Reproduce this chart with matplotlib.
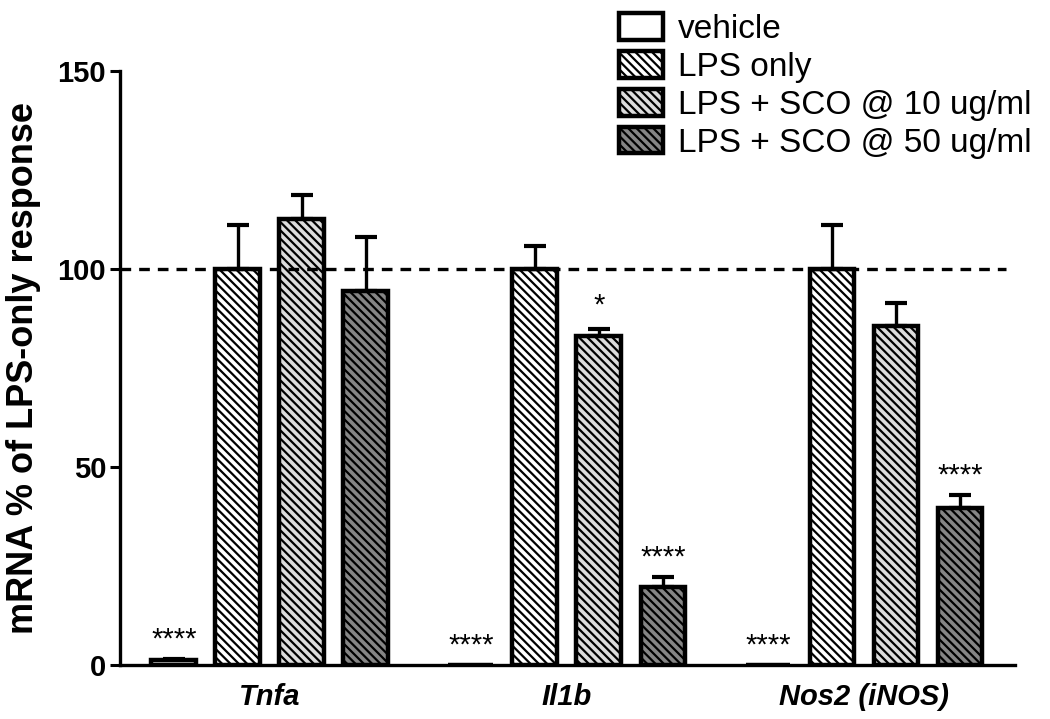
import matplotlib
matplotlib.use("Agg")
import matplotlib.pyplot as plt
import numpy as np

plt.rcParams["font.family"] = ["Liberation Sans", "DejaVu Sans"]
plt.rcParams["hatch.linewidth"] = 1.6

genes = ["Tnfa", "Il1b", "Nos2 (iNOS)"]
series = ["vehicle", "LPS only", "LPS + SCO @ 10 ug/ml", "LPS + SCO @ 50 ug/ml"]

# mean per series, one value per gene
vehicle = [1.2, 0.0, 0.0]
lps_only = [100.0, 100.0, 100.0]
sco_10 = [112.6, 83.1, 85.6]
sco_50 = [94.5, 19.8, 39.6]

# upper error (SEM)
vehicle_err = [0.3, 0.0, 0.0]
lps_only_err = [11.0, 5.8, 11.0]
sco_10_err = [6.1, 1.7, 5.8]
sco_50_err = [13.6, 2.5, 3.3]

# significance marks vs LPS only
vehicle_sig = ["****", "****", "****"]
lps_only_sig = ["", "", ""]
sco_10_sig = ["", "*", ""]
sco_50_sig = ["", "****", "****"]

means = [vehicle, lps_only, sco_10, sco_50]
errs = [vehicle_err, lps_only_err, sco_10_err, sco_50_err]
sigs = [vehicle_sig, lps_only_sig, sco_10_sig, sco_50_sig]

faces = ["white", "white", "#dcdcdc", "#858585"]
hatches = [None, "\\\\\\\\", "\\\\\\\\", "\\\\\\\\"]

fig = plt.figure(figsize=(10.5, 7.19), dpi=100)
ax = fig.add_axes([0.1143, 0.0751, 0.8524, 0.8262])

group_gap = 4.64
bar_w = 0.70
centers = np.arange(len(genes)) * group_gap

handles = []
for j, name in enumerate(series):
    xs = centers + (j - 1.5)
    bars = ax.bar(xs, means[j], width=bar_w, color=faces[j], edgecolor="black",
                  linewidth=3.2, hatch=hatches[j], label=name, zorder=2)
    handles.append(bars)
    show = np.array(errs[j]) > 0
    ax.errorbar(xs[show], np.array(means[j])[show],
                yerr=[np.zeros(show.sum()), np.array(errs[j])[show]],
                fmt="none", ecolor="black", elinewidth=2.4, capsize=8,
                capthick=3.0, zorder=1)
    for x, m, e, s in zip(xs, means[j], errs[j], sigs[j]):
        if s:
            off = 11 if s == "*" else 8
            ax.annotate(s, xy=(x, m + e), xytext=(0, off), textcoords="offset points",
                        ha="center", va="baseline", fontsize=21)

ax.axhline(100, color="black", linestyle=(0, (3.2, 2.4)), linewidth=2.4, zorder=3,
           xmax=0.99)

ax.set_ylim(0, 150)
ax.set_xlim(-2.34, centers[-1] + 2.36)
ax.set_yticks([0, 50, 100, 150])
ax.set_xticks(centers)
ax.set_xticklabels(genes, fontsize=21, fontweight="bold", fontstyle="italic")
ax.tick_params(axis="x", length=0, pad=13)
ax.tick_params(axis="y", length=7, width=2.2, labelsize=21, pad=3)
for lbl in ax.get_yticklabels():
    lbl.set_fontweight("bold")

ax.set_ylabel("mRNA % of LPS-only response", fontsize=26, fontweight="bold")
ax.yaxis.set_label_coords(-0.088, 0.5)

ax.spines["top"].set_visible(False)
ax.spines["right"].set_visible(False)
ax.spines["left"].set_linewidth(2.4)
ax.spines["bottom"].set_linewidth(2.4)
ax.spines["bottom"].set_zorder(4)

leg = fig.legend(handles=handles, labels=series, loc="upper left",
                 bbox_to_anchor=(0.577, 1.0), frameon=False, fontsize=24,
                 handlelength=1.3, handleheight=0.85, handletextpad=0.45,
                 labelspacing=0.18, borderaxespad=0)

fig.savefig("out.png", dpi=100, facecolor="white")
